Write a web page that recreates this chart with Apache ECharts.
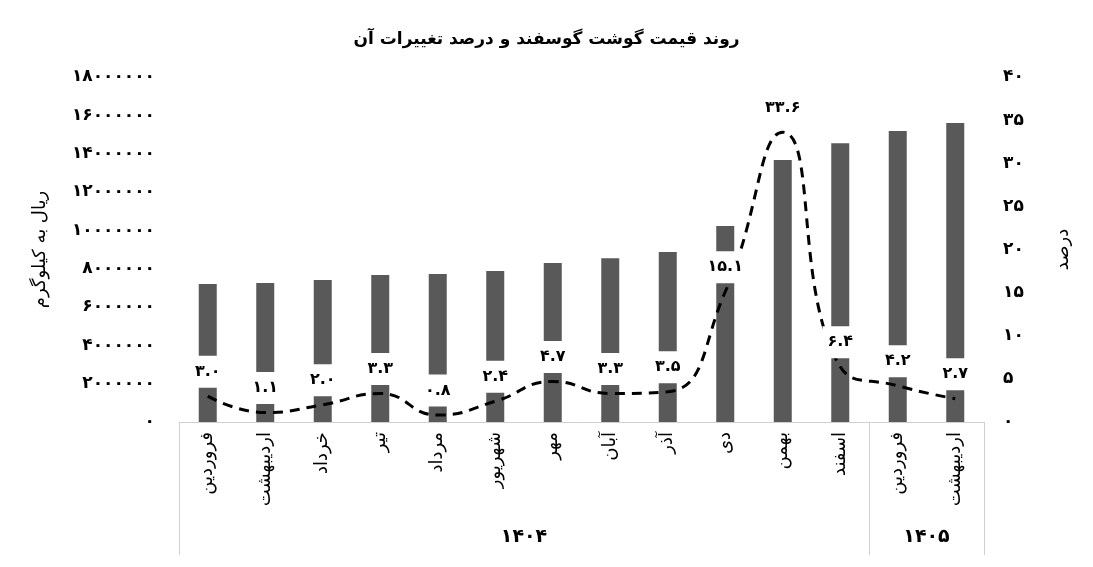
<!DOCTYPE html>
<html>
<head>
<meta charset="utf-8">
<script src="https://cdn.jsdelivr.net/npm/echarts@6/dist/echarts.min.js"></script>
<style>
html,body{margin:0;padding:0;background:#fff;}
#chart{width:1093px;height:567px;}
</style>
</head>
<body>
<div id="chart"></div>
<script>
var titleText = 'روند قیمت گوشت گوسفند و درصد تغییرات آن';
var months = ['فروردین','اردیبهشت','خرداد','تیر','مرداد','شهریور','مهر','آبان','آذر','دی','بهمن','اسفند','فروردین','اردیبهشت'];
var prices = [7200000,7250000,7410000,7670000,7720000,7880000,8290000,8550000,8870000,10220000,13670000,14550000,15180000,15600000];
var changes = [3.0,1.1,2.0,3.3,0.8,2.4,4.7,3.3,3.5,15.1,33.6,6.4,4.2,2.7];
var yearLabels = ['۱۴۰۴','۱۴۰۵'];
var yearLabelPos = [6, 13];
var yearBounds = [0, 12, 14];
var leftAxisName = 'ریال به کیلوگرم';
var rightAxisName = 'درصد';

function fa(s){ return String(s).replace(/\d/g, function(d){ return '۰۱۲۳۴۵۶۷۸۹'[d]; }); }
var FONT = 'DejaVu Sans';

var chart = echarts.init(document.getElementById('chart'));
chart.setOption({
  animation: false,
  title: {
    text: titleText, left: 'center', top: 26,
    textStyle: {fontFamily: FONT, fontSize: 17, fontWeight: 'bold', color: '#000'}
  },
  grid: {left: 179, right: 109, top: 77, bottom: 145},
  xAxis: [{
    type: 'category', data: months, position: 'bottom',
    axisLine: {lineStyle: {color: '#d0d0d0', width: 1}},
    axisTick: {show: false},
    axisLabel: {rotate: 90, margin: 10, interval: 0, color: '#000', fontFamily: FONT, fontSize: 18}
  }, {
    type: 'value', position: 'bottom', offset: 0, min: 0, max: months.length,
    axisLine: {show: false},
    splitLine: {show: false},
    axisTick: {show: true, inside: false, length: 133, customValues: yearBounds, lineStyle: {color: '#d0d0d0', width: 1}},
    axisLabel: {inside: false, margin: 106, customValues: yearLabelPos, color: '#000', fontFamily: FONT, fontSize: 19, fontWeight: 'bold',
      formatter: function(v){ var i = yearLabelPos.indexOf(v); return i >= 0 ? yearLabels[i] : ''; }}
  }],
  yAxis: [{
    type: 'value', min: 0, max: 18000000, interval: 2000000,
    name: leftAxisName, nameLocation: 'middle', nameRotate: 90, nameGap: 130,
    nameTextStyle: {fontFamily: FONT, fontSize: 18, color: '#000'},
    axisLine: {show: false}, axisTick: {show: false}, splitLine: {show: false},
    axisLabel: {margin: 24, color: '#000', fontFamily: FONT, fontSize: 17, fontWeight: 'bold', formatter: function(v){ return fa(v); }}
  }, {
    type: 'value', min: 0, max: 40, interval: 5, position: 'right',
    name: rightAxisName, nameLocation: 'middle', nameRotate: 90, nameGap: 70,
    nameTextStyle: {fontFamily: FONT, fontSize: 18, color: '#000'},
    axisLine: {show: false}, axisTick: {show: false}, splitLine: {show: false},
    axisLabel: {margin: 19, color: '#000', fontFamily: FONT, fontSize: 17, fontWeight: 'bold', formatter: function(v){ return fa(v); }}
  }],
  series: [{
    type: 'bar', data: prices, xAxisIndex: 0, yAxisIndex: 0,
    barWidth: 18, itemStyle: {color: '#595959'}, z: 2
  }, {
    type: 'line', data: changes, xAxisIndex: 0, yAxisIndex: 1,
    smooth: 0.5, symbol: 'circle', symbolSize: 1, showSymbol: true, z: 3,
    itemStyle: {color: 'rgba(0,0,0,0)'},
    lineStyle: {color: '#000', width: 3, type: [10, 7]},
    label: {
      show: true, position: 'top', distance: 8,
      backgroundColor: '#fff', padding: [8, 5],
      color: '#000', fontFamily: FONT, fontSize: 16, fontWeight: 'bold',
      formatter: function(p){ return fa(p.value.toFixed(1)); }
    },
    labelLayout: {hideOverlap: false}
  }]
});
</script>
</body>
</html>
